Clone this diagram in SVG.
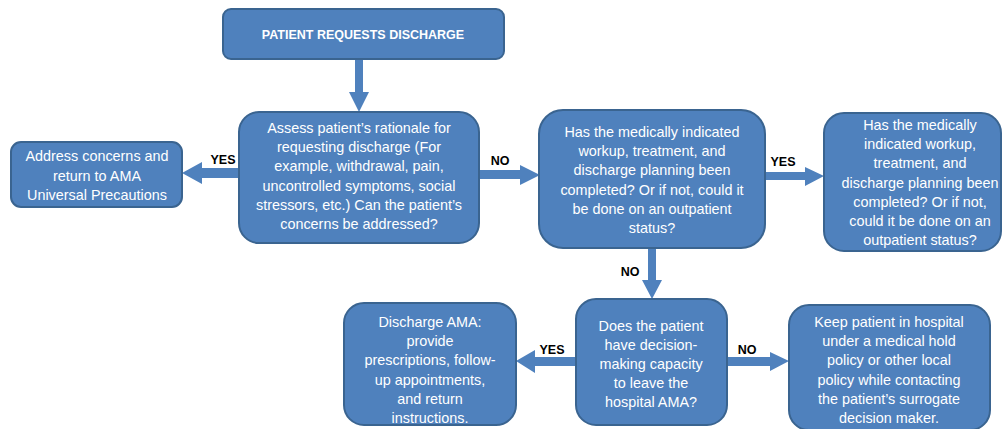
<svg xmlns="http://www.w3.org/2000/svg" width="1003" height="429" viewBox="0 0 1003 429">
<style>
.box{fill:#4f81bd;stroke:#3a6490;stroke-width:2}
.t{font-family:"Liberation Sans",Arial,sans-serif;font-size:14.4px;fill:#ffffff;text-anchor:middle}
.tb{font-family:"Liberation Sans",Arial,sans-serif;font-size:12.5px;font-weight:bold;fill:#ffffff;text-anchor:middle}
.lbl{font-family:"Liberation Sans",Arial,sans-serif;font-size:12.5px;font-weight:bold;fill:#000000;text-anchor:middle}
.arr{fill:#4f81bd;stroke:none}
</style>
<rect width="1003" height="429" fill="#ffffff"/>
<g id="connectors">
<polygon class="arr" points="355,59 363,59 363,92 369,92 359,112 349,92 355,92"/>
<polygon class="arr" points="239,168 239,178 202,178 202,184 182,173 202,162 202,168"/>
<polygon class="arr" points="479,170 520,170 520,165 540,175 520,185 520,179 479,179"/>
<polygon class="arr" points="765,172 805,172 805,167 824,176 805,186 805,180 765,180"/>
<polygon class="arr" points="648,248 656,248 656,280 662,280 652,299 642,280 648,280"/>
<polygon class="arr" points="576,357 576,366 535,366 535,373 516,361 535,350 535,357"/>
<polygon class="arr" points="727,357 770,357 770,352 789,361 770,371 770,366 727,366"/>
<text class="lbl" x="223" y="164">YES</text>
<text class="lbl" x="500" y="165">NO</text>
<text class="lbl" x="783" y="166">YES</text>
<text class="lbl" x="630" y="276">NO</text>
<text class="lbl" x="552" y="354">YES</text>
<text class="lbl" x="747" y="354">NO</text>
</g>
<g id="start">
<rect class="box" x="223" y="9" width="281" height="50" rx="8"/>
<text class="tb" x="363" y="39">PATIENT REQUESTS DISCHARGE</text>
</g>
<g id="assess">
<rect class="box" x="239" y="112" width="240" height="131" rx="20"/>
<text class="t" x="359" y="133">Assess patient’s rationale for</text>
<text class="t" x="359" y="152">requesting discharge (For</text>
<text class="t" x="359" y="171">example, withdrawal, pain,</text>
<text class="t" x="359" y="191">uncontrolled symptoms, social</text>
<text class="t" x="359" y="210">stressors, etc.) Can the patient’s</text>
<text class="t" x="359" y="229">concerns be addressed?</text>
</g>
<g id="address">
<rect class="box" x="11" y="142" width="171" height="65" rx="10"/>
<text class="t" x="97" y="161">Address concerns and</text>
<text class="t" x="97" y="181">return to AMA</text>
<text class="t" x="97" y="200">Universal Precautions</text>
</g>
<g id="workup">
<rect class="box" x="539" y="110" width="226" height="138" rx="24"/>
<text class="t" x="652" y="137">Has the medically indicated</text>
<text class="t" x="652" y="156">workup, treatment, and</text>
<text class="t" x="652" y="175">discharge planning been</text>
<text class="t" x="652" y="195">completed? Or if not, could it</text>
<text class="t" x="652" y="214">be done on an outpatient</text>
<text class="t" x="652" y="233">status?</text>
</g>
<g id="workup2">
<rect class="box" x="824" y="113" width="177" height="138" rx="20"/>
<text class="t" x="920" y="130">Has the medically</text>
<text class="t" x="920" y="149">indicated workup,</text>
<text class="t" x="920" y="168">treatment, and</text>
<text class="t" x="920" y="188">discharge planning been</text>
<text class="t" x="920" y="207">completed? Or if not,</text>
<text class="t" x="920" y="226">could it be done on an</text>
<text class="t" x="920" y="245">outpatient status?</text>
</g>
<g id="capacity">
<rect class="box" x="576" y="299" width="151" height="126" rx="20"/>
<text class="t" x="651" y="331">Does the patient</text>
<text class="t" x="651" y="350">have decision-</text>
<text class="t" x="651" y="369">making capacity</text>
<text class="t" x="651" y="388">to leave the</text>
<text class="t" x="651" y="407">hospital AMA?</text>
</g>
<g id="discharge">
<rect class="box" x="344" y="303" width="172" height="122" rx="20"/>
<text class="t" x="430" y="327">Discharge AMA:</text>
<text class="t" x="430" y="346">provide</text>
<text class="t" x="430" y="365">prescriptions, follow-</text>
<text class="t" x="430" y="385">up appointments,</text>
<text class="t" x="430" y="404">and return</text>
<text class="t" x="430" y="423">instructions.</text>
</g>
<g id="hold">
<rect class="box" x="789" y="305" width="201" height="125" rx="20"/>
<text class="t" x="889" y="327">Keep patient in hospital</text>
<text class="t" x="889" y="346">under a medical hold</text>
<text class="t" x="889" y="365">policy or other local</text>
<text class="t" x="889" y="385">policy while contacting</text>
<text class="t" x="889" y="404">the patient’s surrogate</text>
<text class="t" x="889" y="423">decision maker.</text>
</g>
</svg>
